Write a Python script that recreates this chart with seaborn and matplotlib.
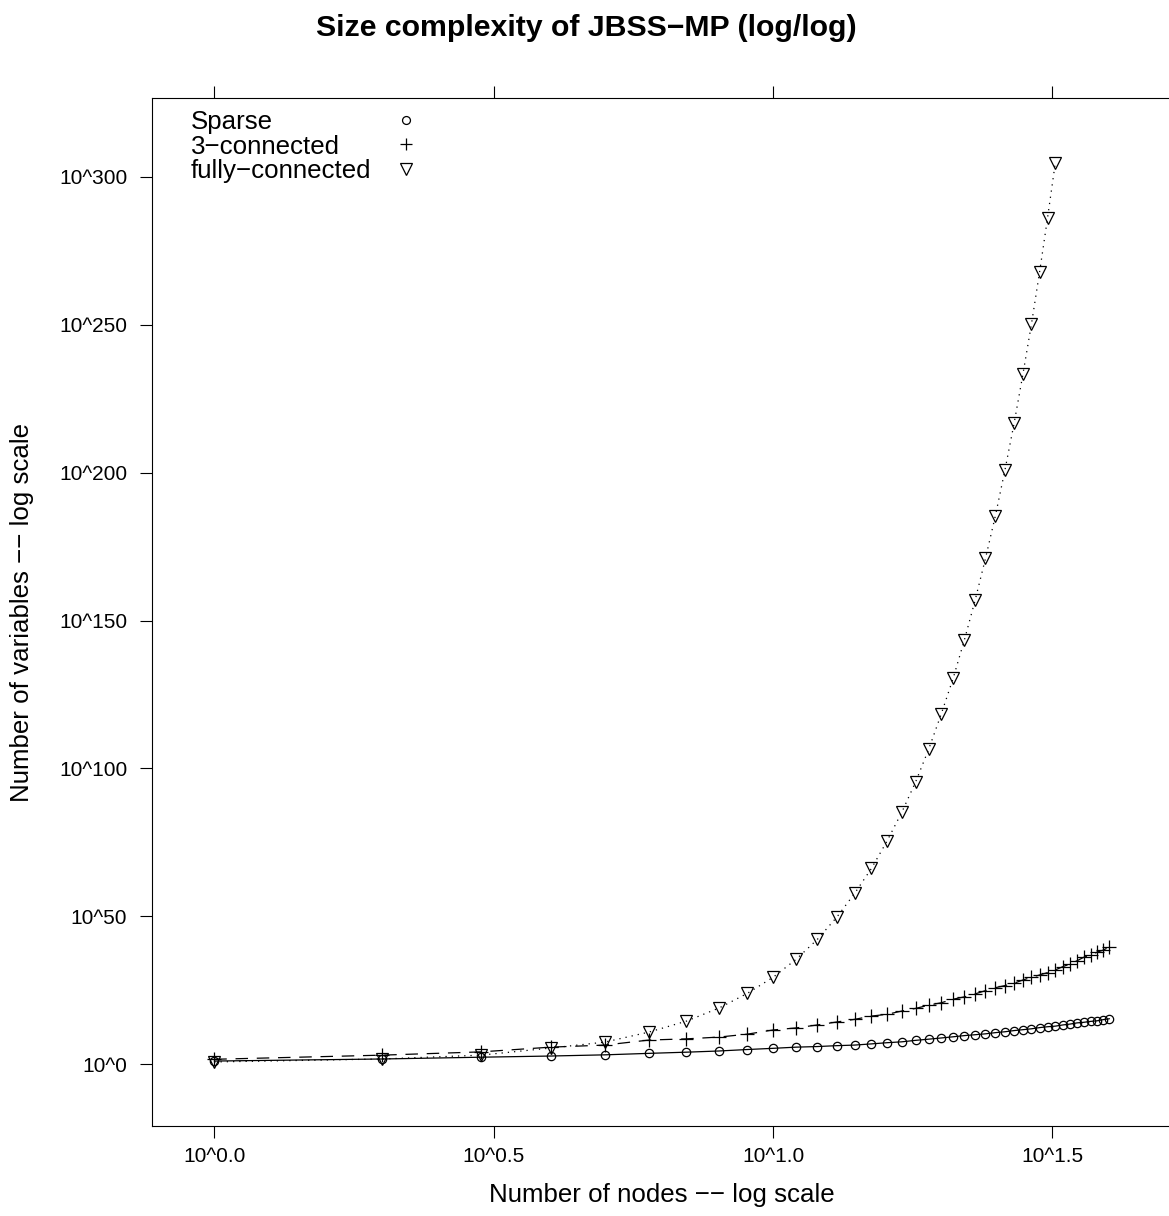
import numpy as np
import pandas as pd
import matplotlib
matplotlib.use("Agg")
import matplotlib.pyplot as plt
from matplotlib.lines import Line2D
from matplotlib.ticker import NullLocator, FixedLocator, FixedFormatter
import seaborn as sns

# ---- data (log10 of number of variables) ----
nodes_sparse = list(range(1, 41))
sparse_exp = [1.1, 1.8, 2.4, 2.8, 3.2, 3.7, 4.1, 4.5, 5.0, 5.4,
              5.8, 6.0, 6.3, 6.5, 6.9, 7.3, 7.6, 8.1, 8.5, 8.9,
              9.3, 9.7, 10.0, 10.3, 10.7, 11.0, 11.4, 11.7, 12.0, 12.4,
              12.7, 12.9, 13.3, 13.6, 14.0, 14.2, 14.5, 14.7, 15.1, 15.4]

nodes_three = list(range(1, 41))
three_exp = [1.7, 3.1, 4.2, 5.8, 6.5, 8.2, 8.6, 9.2, 10.2, 11.6,
             12.3, 13.3, 14.3, 15.2, 16.3, 16.9, 18.0, 18.9, 20.0, 20.8,
             22.0, 22.8, 23.8, 24.9, 25.9, 26.6, 27.4, 28.5, 29.4, 30.2,
             31.0, 31.9, 33.0, 33.9, 35.0, 36.2, 36.9, 37.9, 38.6, 39.7]

nodes_full = list(range(1, 33))
full_exp = [0.8, 1.8, 3.1, 5.5, 7.5, 10.9, 14.6, 19.0, 24.0, 29.4,
            35.5, 42.2, 49.7, 57.8, 66.2, 75.5, 85.2, 95.5, 106.6, 118.4,
            130.4, 143.4, 156.9, 171.0, 185.4, 200.8, 216.6, 233.2, 250.1, 267.9,
            286.2, 304.7]

series_names = ["Sparse", "3-connected", "fully-connected"]
legend_labels = ["Sparse", "3\u2212connected", "fully\u2212connected"]
x_tick_exps = [0.0, 0.5, 1.0, 1.5]
x_tick_labels = ["10^0.0", "10^0.5", "10^1.0", "10^1.5"]
y_tick_vals = [0, 50, 100, 150, 200, 250, 300]
y_tick_labels = ["10^0", "10^50", "10^100", "10^150", "10^200", "10^250", "10^300"]

df = pd.concat([
    pd.DataFrame({"nodes": nodes_sparse, "exp": sparse_exp, "series": series_names[0]}),
    pd.DataFrame({"nodes": nodes_three, "exp": three_exp, "series": series_names[1]}),
    pd.DataFrame({"nodes": nodes_full, "exp": full_exp, "series": series_names[2]}),
], ignore_index=True)

# ---- style ----
sns.set_theme(style="ticks")
plt.rcParams["font.family"] = ["Liberation Sans", "DejaVu Sans"]
plt.rcParams["axes.linewidth"] = 0.8
plt.rcParams["text.color"] = "black"
plt.rcParams["axes.labelcolor"] = "black"
plt.rcParams["xtick.color"] = "black"
plt.rcParams["ytick.color"] = "black"
plt.rcParams["axes.edgecolor"] = "black"

W, H = 1169, 1216
fig = plt.figure(figsize=(W / 100, H / 100), dpi=100)
left, right, top, bottom = 151.7, 1172.0, 98.3, 1125.7
ax = fig.add_axes([left / W, (H - bottom) / H, (right - left) / W, (bottom - top) / H])

styles = {
    "Sparse": dict(marker="o", linestyle="-", markersize=6.0),
    "3-connected": dict(marker="+", linestyle=(0, (10, 7)), markersize=9.5),
    "fully-connected": dict(marker="v", linestyle=(0, (1, 4)), markersize=9.0),
}

for name in series_names:
    sub = df[df["series"] == name]
    st = styles[name]
    sns.lineplot(data=sub, x="nodes", y="exp", ax=ax, estimator=None,
                 color="black", linewidth=0.9, marker=st["marker"],
                 linestyle=st["linestyle"], markersize=st["markersize"],
                 markerfacecolor="none", markeredgecolor="black",
                 markeredgewidth=0.9, legend=False)

ax.set_xscale("log")
ax.set_xlim(10 ** -0.112, 10 ** 1.714)
ax.set_ylim(-20.75, 326.5)
ax.xaxis.set_major_locator(FixedLocator([10 ** e for e in x_tick_exps]))
ax.xaxis.set_major_formatter(FixedFormatter(x_tick_labels))
ax.xaxis.set_minor_locator(NullLocator())
ax.yaxis.set_major_locator(FixedLocator(y_tick_vals))
ax.yaxis.set_major_formatter(FixedFormatter(y_tick_labels))

ax.tick_params(axis="both", direction="out", length=8.6, width=0.8,
               labelsize=15, top=True, right=True, labeltop=False, labelright=False)
ax.tick_params(axis="x", pad=7)
ax.tick_params(axis="y", pad=9)

ax.set_xlabel("Number of nodes \u2212\u2212 log scale", fontsize=18.6)
ax.set_ylabel("Number of variables \u2212\u2212 log scale", fontsize=18.6)
ax.xaxis.label.set_va("center")
ax.yaxis.label.set_va("center")
ax.xaxis.set_label_coords(0.5, -(1195 - bottom) / (bottom - top))
ax.yaxis.set_label_coords(-(left - 22) / (right - left), 0.5)

fig.suptitle("Size complexity of JBSS\u2212MP (log/log)", fontsize=21.8,
             fontweight="bold", x=586 / W, y=1 - 28 / H, va="center")

# ---- legend: left-aligned labels, markers in a column to their right ----
legend_top = 1 - (110 - top) / (bottom - top)
text_handles = [Line2D([], [], linestyle="none", marker="none") for _ in series_names]
leg_text = ax.legend(text_handles, legend_labels, loc="upper left",
                     bbox_to_anchor=((191 - left) / (right - left), legend_top),
                     frameon=False, fontsize=18.6, markerfirst=True, borderpad=0,
                     borderaxespad=0, handlelength=0, handletextpad=0,
                     labelspacing=0.02)
ax.add_artist(leg_text)

marker_handles = [Line2D([], [], color="black", linestyle="none", marker=styles[n]["marker"],
                         markersize=styles[n]["markersize"] * 0.95, markerfacecolor="none",
                         markeredgewidth=0.9) for n in series_names]
ax.legend(marker_handles, ["", "", ""], loc="upper left",
          bbox_to_anchor=((406 - 12.9 - left) / (right - left), legend_top),
          frameon=False, fontsize=18.6, markerfirst=True, borderpad=0,
          borderaxespad=0, handlelength=1.0, handletextpad=0,
          labelspacing=0.02)

fig.savefig("out.png", dpi=100)
